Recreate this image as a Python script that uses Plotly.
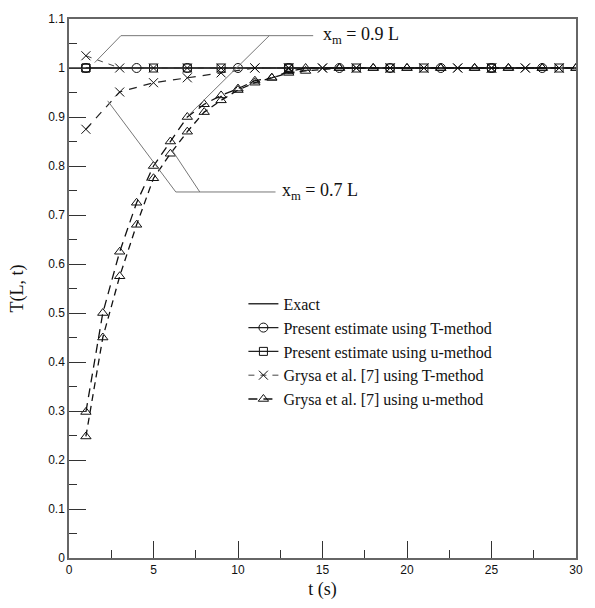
import plotly.graph_objects as go

# ---------------- data ----------------
# Exact solution
t_exact = [0, 30]
T_exact = [1.0, 1.0]

# Present estimate using T-method (x_m = 0.9 L and 0.7 L coincide)
t_pres_T = [1, 4, 7, 10, 13, 16, 19, 22, 25, 28]
T_pres_T_09 = [1.0, 1.0, 1.0, 1.0, 1.0, 1.0, 1.0, 1.0, 1.0, 1.0]

# Present estimate using u-method
t_pres_u_09 = [1, 5, 9, 13, 17, 21, 25, 29]
T_pres_u_09 = [1.0, 1.0, 1.0, 1.0, 1.0, 1.0, 1.0, 1.0]
t_pres_u_07 = [1, 7, 13, 19, 25]
T_pres_u_07 = [1.0, 1.0, 1.0, 1.0, 1.0]

# Grysa et al. [7] using T-method
t_grysa_T = [1, 3, 5, 7, 9, 11, 13, 15, 17, 19, 21, 23, 25, 27, 29]
T_grysa_T_09 = [1.025, 1.0, 1.0, 1.0, 1.0, 1.0, 1.0, 1.0, 1.0, 1.0, 1.0, 1.0, 1.0, 1.0, 1.0]
T_grysa_T_07 = [0.875, 0.951, 0.970, 0.980, 0.990, 1.0, 1.0, 1.0, 1.0, 1.0, 1.0, 1.0, 1.0, 1.0, 1.0]

# Grysa et al. [7] using u-method
t_grysa_u = [1, 2, 3, 4, 5, 6, 7, 8, 9, 10, 11, 12, 13, 14, 16, 18, 20, 22, 24, 26, 28, 30]
T_grysa_u_09 = [0.298, 0.500, 0.625, 0.725, 0.800, 0.850, 0.900, 0.926, 0.944, 0.958, 0.974, 0.980, 0.993, 1.0,
                1.0, 1.0, 1.0, 1.0, 1.0, 1.0, 1.0, 1.0]
T_grysa_u_07 = [0.248, 0.450, 0.575, 0.680, 0.775, 0.825, 0.870, 0.910, 0.934, 0.955, 0.970, 0.980, 0.990, 0.994,
                1.0, 1.0, 1.0, 1.0, 1.0, 1.0, 1.0, 1.0]

legend_names = ["Exact",
                "Present estimate using T-method",
                "Present estimate using u-method",
                "Grysa et al. [7] using T-method",
                "Grysa et al. [7] using u-method"]

# leader lines for labels (data coordinates)
lead_09 = [((3.07, 1.066), (14.45, 1.066)), ((3.07, 1.066), (1.52, 1.011)), ((11.85, 1.066), (7.06, 0.903))]
lead_07 = [((6.32, 0.747), (12.22, 0.747)), ((6.32, 0.747), (2.29, 0.933)), ((7.74, 0.747), (6.09, 0.833))]
label_09 = "x<sub>m</sub> = 0.9 L"
label_07 = "x<sub>m</sub> = 0.7 L"
label_09_pos = (14.9, 1.066)
label_07_pos = (12.5, 0.747)

# ---------------- figure ----------------
SERIF = "Liberation Serif, Times New Roman, serif"
SANS = "Liberation Sans, Arial, sans-serif"

fig = go.Figure()

ms = 9
mline = dict(color="#111", width=1)

# Exact
fig.add_trace(go.Scatter(x=t_exact, y=T_exact, mode="lines", name=legend_names[0],
                         line=dict(color="#333", width=1.5)))
# Present T-method
fig.add_trace(go.Scatter(x=t_pres_T, y=T_pres_T_09, mode="lines+markers", name=legend_names[1],
                         line=dict(color="#222", width=1.2),
                         marker=dict(symbol="circle-open", size=ms, color="#111", line=mline)))
# Present u-method
fig.add_trace(go.Scatter(x=t_pres_u_09, y=T_pres_u_09, mode="lines+markers", name=legend_names[2],
                         legendgroup="pu", line=dict(color="#222", width=1.2),
                         marker=dict(symbol="square-open", size=ms - 1, color="#111", line=mline)))
fig.add_trace(go.Scatter(x=t_pres_u_07, y=T_pres_u_07, mode="markers", name=legend_names[2],
                         legendgroup="pu", showlegend=False,
                         marker=dict(symbol="square-open", size=ms - 1, color="#111", line=mline)))
# Grysa T-method
fig.add_trace(go.Scatter(x=t_grysa_T, y=T_grysa_T_09, mode="lines+markers", name=legend_names[3],
                         legendgroup="gT", line=dict(color="#444", width=1, dash="6px,6px"),
                         marker=dict(symbol="x-thin-open", size=ms, color="#111", line=mline)))
fig.add_trace(go.Scatter(x=t_grysa_T, y=T_grysa_T_07, mode="lines+markers", name=legend_names[3],
                         legendgroup="gT", showlegend=False, line=dict(color="#222", width=1.2, dash="8px,7px"),
                         marker=dict(symbol="x-thin-open", size=ms, color="#111", line=mline)))
# Grysa u-method
fig.add_trace(go.Scatter(x=t_grysa_u, y=T_grysa_u_09, mode="lines+markers", name=legend_names[4],
                         legendgroup="gu", line=dict(color="#111", width=1.3, dash="9px,6px"),
                         marker=dict(symbol="triangle-up-open", size=ms, color="#111", line=mline)))
fig.add_trace(go.Scatter(x=t_grysa_u, y=T_grysa_u_07, mode="lines+markers", name=legend_names[4],
                         legendgroup="gu", showlegend=False, line=dict(color="#111", width=1.3, dash="7px,5px"),
                         marker=dict(symbol="triangle-up-open", size=ms, color="#111", line=mline)))

for (p0, p1) in lead_09 + lead_07:
    fig.add_shape(type="line", xref="x", yref="y", x0=p0[0], y0=p0[1], x1=p1[0], y1=p1[1],
                  line=dict(color="#777", width=1))

for txt, pos in [(label_09, label_09_pos), (label_07, label_07_pos)]:
    fig.add_annotation(x=pos[0], y=pos[1], xref="x", yref="y", text=txt, showarrow=False,
                       xanchor="left", yanchor="middle", font=dict(family=SERIF, size=18, color="#111"))

axis_common = dict(showline=True, linecolor="#666", linewidth=1.5, mirror=True,
                   ticks="inside", tickcolor="#333", tickwidth=1, ticklen=17,
                   showgrid=False, zeroline=False,
                   tickfont=dict(family=SANS, size=12, color="#111"))

fig.update_xaxes(range=[0, 30], dtick=5, tick0=0,
                 minor=dict(ticks="inside", dtick=2.5, ticklen=8, tickcolor="#333", tickwidth=1, showgrid=False),
                 title=dict(text="t (s)", font=dict(family=SERIF, size=18, color="#111"), standoff=6),
                 **axis_common)
fig.update_yaxes(range=[0, 1.1], dtick=0.1, tick0=0,
                 minor=dict(ticks="inside", dtick=0.05, ticklen=8, tickcolor="#333", tickwidth=1, showgrid=False),
                 title=dict(text="T(L, t)", font=dict(family=SERIF, size=18, color="#111"), standoff=20),
                 **axis_common)

fig.update_layout(
    width=595, height=608,
    margin=dict(l=69, r=12, t=14, b=48),
    paper_bgcolor="white", plot_bgcolor="white",
    showlegend=True,
    legend=dict(x=0.344, y=0.503, xanchor="left", yanchor="top",
                bgcolor="rgba(0,0,0,0)", borderwidth=0,
                font=dict(family=SERIF, size=16, color="#111"),
                tracegroupgap=0),
)

fig.write_html("out.html")
